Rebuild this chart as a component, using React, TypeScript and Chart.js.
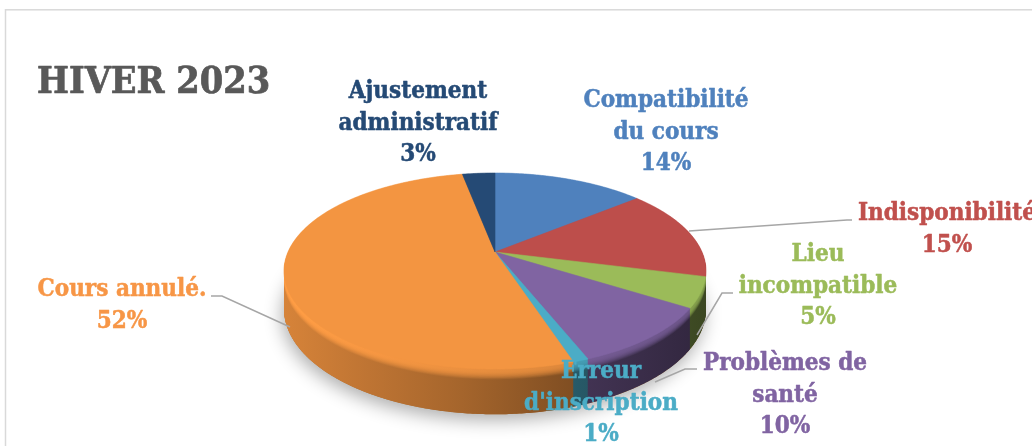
import React, { useEffect, useRef } from "react";
import { Chart, registerables } from "chart.js";

Chart.register(...registerables);

const categories = ["Compatibilité du cours", "Indisponibilité", "Lieu incompatible", "Problèmes de santé", "Erreur d'inscription", "Cours annulé.", "Ajustement administratif"];
const values = [14, 15, 5, 10, 1, 52, 3];
const labelLines = [["Compatibilité", "du cours"], ["Indisponibilité"], ["Lieu", "incompatible"], ["Problèmes de", "santé"], ["Erreur", "d'inscription"], ["Cours annulé."], ["Ajustement", "administratif"]];
const faceColors = ["#4f81bd", "#bd4e4b", "#9bbb59", "#8064a2", "#4bacc6", "#f39541", "#254a75"];
const textColors = ["#4f81bd", "#c0504d", "#9bbb59", "#8064a2", "#4bacc6", "#f79646", "#254a75"];
const labelAnchors = [[666, 107], [947, 220], [818, 261], [785, 370], [601, 378], [122, 296], [418, 98]];
const leaders = [null, [[689, 231], [847, 220], [852, 220]], [[697, 335], [722, 293], [733, 293]], [[655, 382], [685, 369], [697, 369]], null, [[290, 327], [222, 296], [211, 296]], null];
const titleText = "HIVER 2023";

const CX = 495, CY = 252, R = 207, RY = 94.3, K = 0.194, DEPTH = 36.5;
const FONT = '"DejaVu Serif Condensed", "DejaVu Serif", serif';

const project = (a: number, shift: number) => {
  const u = Math.cos(a), v = Math.sin(a), w = 1 - K * v;
  return [CX + (R * u) / w, CY + (RY * v) / w + (shift * DEPTH) / w];
};

const hexRgb = (h: string) => [1, 3, 5].map((i) => parseInt(h.slice(i, i + 2), 16));
const shade = (rgb: number[], f: number) => `rgb(${rgb.map((c) => Math.min(255, Math.round(c * f))).join(",")})`;

const slicePath = (ctx: CanvasRenderingContext2D, a0: number, a1: number, shift: number) => {
  ctx.beginPath();
  ctx.moveTo(CX, CY + shift * DEPTH);
  const n = Math.max(2, Math.ceil((a1 - a0) / 0.01));
  for (let i = 0; i <= n; i++) {
    const [x, y] = project(a0 + ((a1 - a0) * i) / n, shift);
    ctx.lineTo(x, y);
  }
  ctx.closePath();
};

const pie3d = {
  id: "pie3d",
  beforeDraw(chart: any) {
    const ctx = chart.ctx;
    ctx.save();
    ctx.fillStyle = "#ffffff";
    ctx.fillRect(0, 0, chart.width, chart.height);
    ctx.strokeStyle = "#d9d9d9";
    ctx.lineWidth = 1.5;
    ctx.strokeRect(5.5, 9.8, 1200, 800);
    ctx.restore();
  },
  beforeDatasetsDraw(chart: any) {
    const ctx: CanvasRenderingContext2D = chart.ctx;
    const arcs = chart.getDatasetMeta(0).data;
    ctx.save();
    // soft shadow
    ctx.save();
    ctx.shadowColor = "rgba(0,0,0,0.32)";
    ctx.shadowBlur = 18;
    ctx.shadowOffsetY = 6;
    ctx.shadowOffsetX = -2;
    slicePath(ctx, 0, Math.PI * 2, 1);
    ctx.fillStyle = "#a9713a";
    ctx.fill();
    ctx.restore();
    // side layers, bottom to top
    const steps = 80;
    for (let s = steps; s >= 1; s--) {
      const t = s / steps;
      arcs.forEach((arc: any, i: number) => {
        const rgb = hexRgb(faceColors[i]);
        const g = ctx.createLinearGradient(285, 0, 705, 0);
        const fx = [[0, 0.88], [0.2, 0.78], [0.42, 0.68], [0.7, 0.52], [1, 0.38]];
        fx.forEach(([p, f]) => {
          let ff = f;
          if (t < 0.24) {
            const m = Math.max(0, t - 0.04) / 0.2;
            const peak = 1.06 - p * 0.22;
            ff = peak + (f - peak) * m * m;
          }
          g.addColorStop(p, shade(rgb, ff));
        });
        ctx.fillStyle = g;
        slicePath(ctx, arc.startAngle, arc.endAngle, t);
        ctx.fill();
      });
    }
    // top face
    arcs.forEach((arc: any, i: number) => {
      slicePath(ctx, arc.startAngle, arc.endAngle, 0);
      ctx.fillStyle = faceColors[i];
      ctx.strokeStyle = faceColors[i];
      ctx.lineWidth = 0.6;
      ctx.fill();
      ctx.stroke();
    });
    ctx.restore();
    return false;
  },
  afterDraw(chart: any) {
    const ctx: CanvasRenderingContext2D = chart.ctx;
    ctx.save();
    ctx.strokeStyle = "#a6a6a6";
    ctx.lineWidth = 1.5;
    leaders.forEach((pts) => {
      if (!pts) return;
      ctx.beginPath();
      pts.forEach(([x, y], j) => (j ? ctx.lineTo(x, y) : ctx.moveTo(x, y)));
      ctx.stroke();
    });
    ctx.textAlign = "center";
    ctx.textBaseline = "alphabetic";
    ctx.lineJoin = "round";
    ctx.font = `bold 24px ${FONT}`;
    ctx.lineWidth = 0.5;
    const total = values.reduce((a, b) => a + b, 0);
    labelLines.forEach((lines, i) => {
      ctx.fillStyle = textColors[i];
      ctx.strokeStyle = textColors[i];
      const [x, y] = labelAnchors[i];
      [...lines, `${Math.round((values[i] / total) * 100)}%`].forEach((l, j) => {
        ctx.fillText(l, x, y + j * 31.7);
        ctx.strokeText(l, x, y + j * 31.7);
      });
    });
    ctx.textAlign = "left";
    ctx.fillStyle = "#595959";
    ctx.strokeStyle = "#595959";
    ctx.lineWidth = 0.7;
    ctx.font = `bold 37.5px ${FONT}`;
    ctx.fillText(titleText, 37, 93);
    ctx.strokeText(titleText, 37, 93);
    ctx.restore();
  },
};

export default function App() {
  const ref = useRef<HTMLCanvasElement>(null);
  useEffect(() => {
    const chart = new Chart(ref.current!, {
      type: "pie",
      data: { labels: categories, datasets: [{ data: values, backgroundColor: faceColors, borderWidth: 0 }] },
      options: {
        responsive: false,
        animation: false,
        rotation: 0,
        plugins: { legend: { display: false }, tooltip: { enabled: false } },
      },
      plugins: [pie3d],
    } as any);
    return () => chart.destroy();
  }, []);
  return (
    <div style={{ position: "absolute", left: 0, top: 0, width: 1032, height: 446, overflow: "hidden" }}>
      <canvas ref={ref} width={1032} height={446} style={{ display: "block" }} />
    </div>
  );
}
